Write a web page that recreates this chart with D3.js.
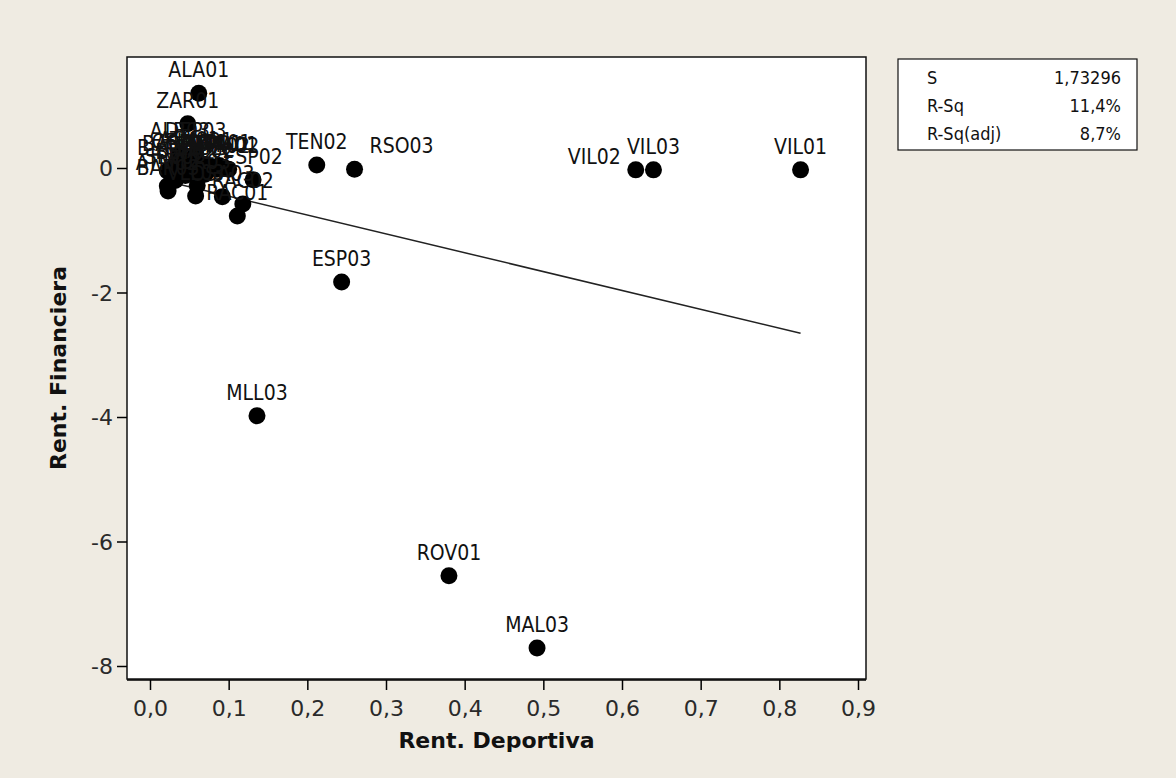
<!DOCTYPE html>
<html>
<head>
<meta charset="utf-8">
<script src="https://cdn.jsdelivr.net/npm/d3@7"></script>
<style>
  body { margin: 0; background: #efebe2; }
  svg { display: block; }
  .lbl { font-family: "DejaVu Sans Condensed", "DejaVu Sans", sans-serif; font-stretch: condensed; font-size: 21px; fill: #111; }
  .tick text { font-family: "DejaVu Sans", sans-serif; font-size: 22px; fill: #2a2a2a; }
  .title { font-family: "DejaVu Sans", sans-serif; font-weight: bold; font-size: 22px; fill: #111; }
</style>
</head>
<body>
<svg id="chart" width="1176" height="778"></svg>
<script>
// équipes / temporadas
var teams = ["ALA01","ZAR01","TEN02","RSO03","VIL02","VIL03","VIL01","ESP03","MLL03","ROV01","MAL03","RAC01","ESP02","RAC02",
  "BET01","BAR01","CEL01","ATH01","SEV01","VAL01","DEP01","OSA01","RMA01","ALB03","DEP03",
  "ATM02","SEV02","BET02","CEL02","VAL02","RMA02","ATH02","BAR03","VLL03","OSA03","MUR03"];
var rentDeportiva = [0.062,0.048,0.212,0.260,0.6175,0.640,0.827,0.2436,0.136,0.380,0.492,0.111,0.131,0.118,
  0.022,0.030,0.040,0.050,0.060,0.068,0.078,0.088,0.095,0.038,0.058,
  0.022,0.032,0.045,0.055,0.070,0.085,0.100,0.023,0.058,0.092,0.060];
var rentFinanciera = [1.20,0.71,0.05,-0.02,-0.03,-0.03,-0.03,-1.83,-3.98,-6.55,-7.71,-0.77,-0.19,-0.58,
  -0.05,0.02,0.05,0.08,0.03,0.06,0.02,0.04,0.00,0.22,0.22,
  -0.29,-0.20,-0.12,-0.05,-0.10,-0.02,-0.02,-0.37,-0.45,-0.46,-0.28];
var xTicks = [0,0.1,0.2,0.3,0.4,0.5,0.6,0.7,0.8,0.9];
var yTicks = [0,-2,-4,-6,-8];
// droite ajustée
var fitIntercept = -0.149, fitSlope = -3.03;
var statNames = ["S","R-Sq","R-Sq(adj)"];
var statValues = ["1,73296","11,4%","8,7%"];

var svg = d3.select("#chart");
var box = {left: 127, top: 57, right: 866, bottom: 679};
var x = d3.scaleLinear().domain([0, 0.9]).range([150, 858]);
var y = d3.scaleLinear().domain([0, -8]).range([168, 666]);
var comma = function(d) { return d3.format(".1f")(d).replace(".", ","); };

var data = teams.map(function(t, i) { return {name: t, x: rentDeportiva[i], y: rentFinanciera[i]}; });

svg.append("rect")
  .attr("x", box.left).attr("y", box.top)
  .attr("width", box.right - box.left).attr("height", box.bottom - box.top)
  .attr("fill", "#fff").attr("stroke", "#111").attr("stroke-width", 1.5);

var gx = svg.append("g").attr("transform", "translate(0," + (box.bottom + 1) + ")")
  .call(d3.axisBottom(x).tickValues(xTicks).tickFormat(comma).tickSize(10).tickPadding(10));
gx.select(".domain").attr("d", "M" + box.left + ",0H" + box.right).attr("stroke-width", 1.5);
gx.selectAll(".tick line").attr("stroke-width", 1.5);

var gy = svg.append("g").attr("transform", "translate(" + box.left + ",0)")
  .call(d3.axisLeft(y).tickValues(yTicks).tickFormat(function(d) { return String(d); }).tickSize(10).tickPadding(4));
gy.select(".domain").remove();
gy.selectAll(".tick line").attr("stroke-width", 1.5);
gy.selectAll(".tick text").attr("dy", "0.36em");

// droite de régression
var xmin = d3.min(rentDeportiva), xmax = d3.max(rentDeportiva);
svg.append("line")
  .attr("x1", x(xmin)).attr("y1", y(fitIntercept + fitSlope * xmin))
  .attr("x2", x(xmax)).attr("y2", y(fitIntercept + fitSlope * xmax))
  .attr("stroke", "#222").attr("stroke-width", 1.5);

svg.selectAll("circle.pt").data(data).enter().append("circle")
  .attr("class", "pt")
  .attr("cx", function(d) { return x(d.x); })
  .attr("cy", function(d) { return y(d.y); })
  .attr("r", 8.5).attr("fill", "#000");

// étiquettes ; quelques-unes déplacées comme dans Minitab
var leftLabels = ["VIL02"], rightLabels = ["RSO03"];
function side(d) {
  if (leftLabels.indexOf(d.name) >= 0) return "left";
  if (rightLabels.indexOf(d.name) >= 0) return "right";
  return "top";
}
svg.selectAll("text.lbl").data(data).enter().append("text")
  .attr("class", "lbl")
  .attr("x", function(d) { var s = side(d); return s == "left" ? x(d.x) - 15 : s == "right" ? x(d.x) + 15 : x(d.x); })
  .attr("y", function(d) { var s = side(d); return s == "left" ? y(d.y) - 6 : y(d.y) - 16; })
  .attr("text-anchor", function(d) { var s = side(d); return s == "left" ? "end" : s == "right" ? "start" : "middle"; })
  .text(function(d) { return d.name; });

svg.append("text").attr("class", "title")
  .attr("x", (box.left + box.right) / 2).attr("y", 748)
  .attr("text-anchor", "middle").text("Rent. Deportiva");
svg.append("text").attr("class", "title")
  .attr("transform", "translate(66," + (box.top + box.bottom) / 2 + ") rotate(-90)")
  .attr("text-anchor", "middle").text("Rent. Financiera");

// encadré des statistiques
var sg = svg.append("g");
sg.append("rect").attr("x", 898).attr("y", 59).attr("width", 239).attr("height", 91)
  .attr("fill", "#fff").attr("stroke", "#111").attr("stroke-width", 1.2);
statNames.forEach(function(s, i) {
  sg.append("text").attr("class", "lbl").style("font-size", "18px")
    .attr("x", 927).attr("y", 84 + i * 28).text(s);
  sg.append("text").attr("class", "lbl").style("font-size", "18px")
    .attr("x", 1121).attr("y", 84 + i * 28).attr("text-anchor", "end").text(statValues[i]);
});
</script>
</body>
</html>
